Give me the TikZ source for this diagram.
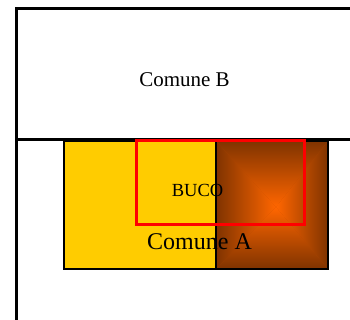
\documentclass[tikz,border=0pt]{standalone}
\usepackage{fontspec}
\setmainfont{Liberation Serif}
\definecolor{goldy}{HTML}{FFCC00}
\definecolor{brownedge}{HTML}{7F3300}
\definecolor{orangemid}{HTML}{FF6600}
\definecolor{redline}{HTML}{FF0000}
\begin{document}
\begin{tikzpicture}[x=1pt,y=-1pt,
  border/.style={line width=3pt,draw=black},
  area/.style={line width=1.5pt,draw=black},
  hole/.style={line width=3pt,draw=redline},
  label/.style={anchor=base,inner sep=0pt,text=black}]
\useasboundingbox (0,0) rectangle (350,320);
% Comune B outline and boundary
\draw[border] (360,9) -- (16,9) -- (16,330);
\draw[border] (16,139.5) -- (360,139.5);
\node[label,font=\fontsize{21}{21}\selectfont] (cb) at (184.5,87) {Comune B};
% Comune A: yellow part
\fill[goldy] (64,141) rectangle (216,269);
% brown pyramid-shaded part
\fill[brownedge!60!orangemid] (216,141) rectangle (328,269);
\coordinate (c) at (276,207);
\shade[top color=brownedge,bottom color=orangemid] (216,141) -- (328,141) -- (c) -- cycle;
\shade[bottom color=brownedge,top color=orangemid] (216,269) -- (328,269) -- (c) -- cycle;
\shade[left color=brownedge,right color=orangemid] (216,141) -- (216,269) -- (c) -- cycle;
\shade[right color=brownedge,left color=orangemid] (328,141) -- (328,269) -- (c) -- cycle;
\draw[area] (64,141) rectangle (328,269);
\draw[area] (216,141) -- (216,269);
\node[label,font=\fontsize{24}{24}\selectfont] (ca) at (199.5,249) {Comune A};
% BUCO
\draw[hole] (136.5,140.5) rectangle (304.5,224.5);
\node[label,font=\fontsize{18.5}{18.5}\selectfont] (buco) at (197.5,196.5) {BUCO};
\end{tikzpicture}
\end{document}
